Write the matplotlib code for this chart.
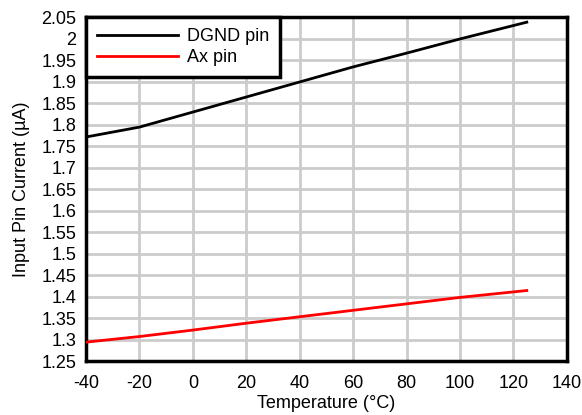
import matplotlib
matplotlib.use("Agg")
import matplotlib.pyplot as plt

plt.rcParams['font.family'] = ['Liberation Sans', 'DejaVu Sans']

temps = [-40, -20, 0, 20, 40, 60, 80, 100, 125]
dgnd = [1.771, 1.794, 1.829, 1.864, 1.899, 1.934, 1.966, 1.999, 2.038]
ax_pin = [1.294, 1.307, 1.322, 1.338, 1.353, 1.368, 1.383, 1.398, 1.414]

xticks = [-40, -20, 0, 20, 40, 60, 80, 100, 120, 140]
yticks = [1.25, 1.3, 1.35, 1.4, 1.45, 1.5, 1.55, 1.6, 1.65, 1.7, 1.75, 1.8, 1.85, 1.9, 1.95, 2.0, 2.05]
ytick_labels = ['1.25', '1.3', '1.35', '1.4', '1.45', '1.5', '1.55', '1.6', '1.65', '1.7', '1.75', '1.8', '1.85', '1.9', '1.95', '2', '2.05']

fig = plt.figure(figsize=(5.82, 4.15), dpi=100)
ax = fig.add_axes([0.1478, 0.130, 0.8262, 0.829])

ax.plot(temps, dgnd, color='black', lw=2, label='DGND pin', zorder=3)
ax.plot(temps, ax_pin, color='#ff0000', lw=2, label='Ax pin', zorder=3)

ax.set_xlim(-40, 140)
ax.set_ylim(1.25, 2.05)
ax.set_xticks(xticks)
ax.set_xticklabels([str(t) for t in xticks])
ax.set_yticks(yticks)
ax.set_yticklabels(ytick_labels)
ax.tick_params(axis='x', length=0, labelsize=13, pad=10)
ax.tick_params(axis='y', length=0, labelsize=13, pad=7)
ax.grid(True, color='#cccccc', lw=2)
ax.set_axisbelow(True)
for s in ax.spines.values():
    s.set_linewidth(2.5)
    s.set_color('black')

ax.set_xlabel('Temperature (°C)', fontsize=13, labelpad=2)
ax.set_ylabel('Input Pin Current (µA)', fontsize=13, labelpad=8)

leg = ax.legend(loc='upper left', borderaxespad=0, fontsize=13, handlelength=4.5,
                frameon=True, fancybox=False, edgecolor='black', framealpha=1,
                borderpad=0.6, labelspacing=0.25, handletextpad=0.5)
leg.get_frame().set_linewidth(2.5)

fig.savefig('out.png', dpi=100)
